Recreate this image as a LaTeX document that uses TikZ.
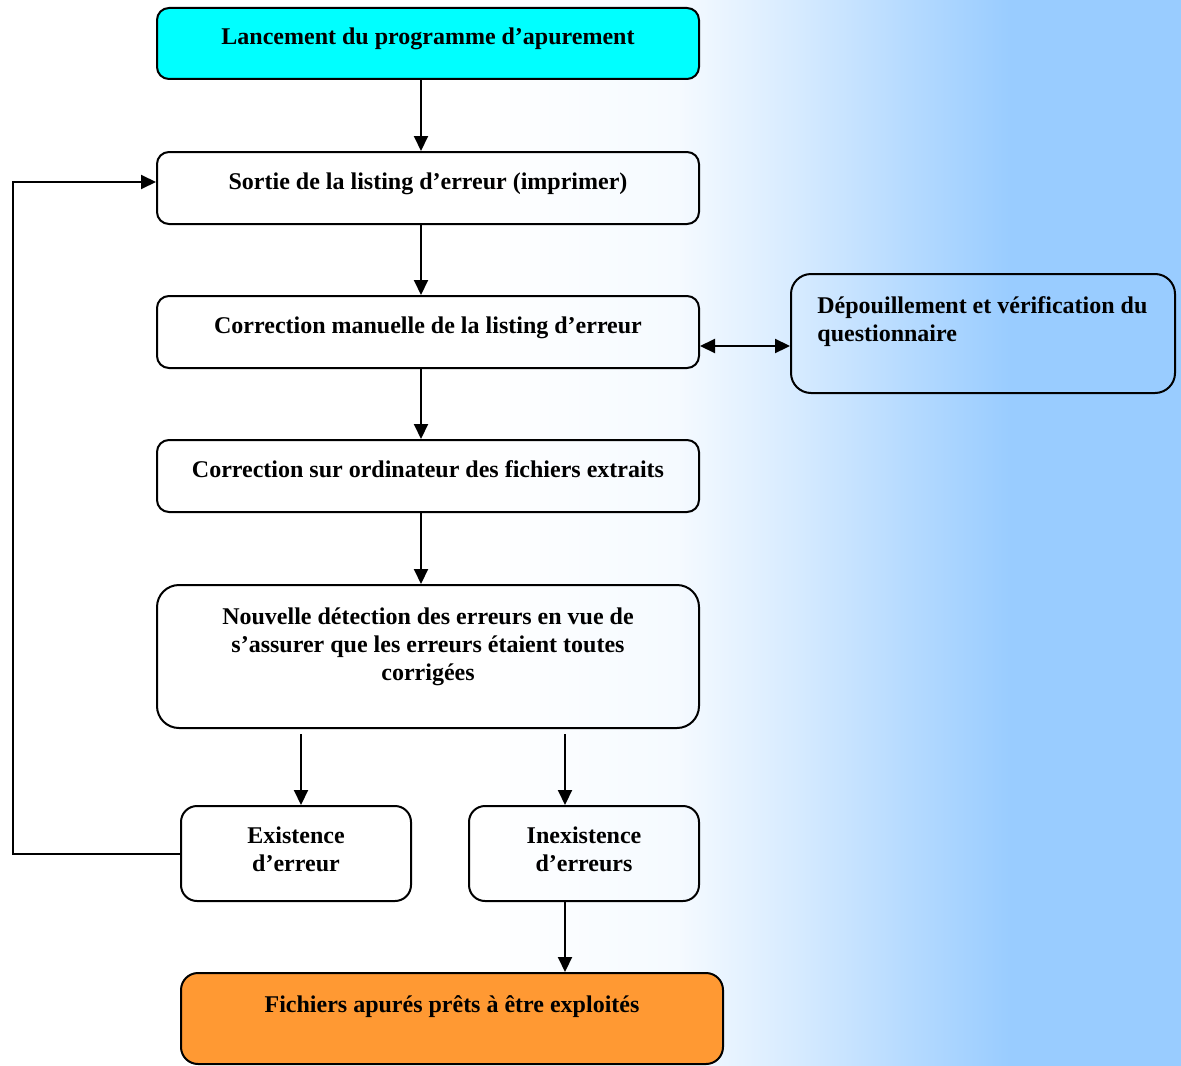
\documentclass[tikz,border=0pt]{standalone}
\usepackage{fontspec}
\setmainfont{Liberation Serif}
\usetikzlibrary{arrows.meta}
\definecolor{bgblue}{HTML}{99CCFF}
\definecolor{boxcyan}{HTML}{00FFFF}
\definecolor{boxorange}{HTML}{FF9933}
\tikzset{
  box/.style={draw=black, line width=1pt, inner sep=0pt},
  txt/.style={font=\fontsize{12}{14}\selectfont\bfseries, inner sep=0pt, align=center},
  arr/.style={line width=1pt, -{Triangle[length=7.5pt,width=7pt]}},
  darr/.style={line width=1.1pt, {Triangle[length=7.5pt,width=7pt]}-{Triangle[length=7.5pt,width=7pt]}},
  fb/.style={line width=1pt, -{Triangle[length=7.5pt,width=7pt]}}
}
\begin{document}
\begin{tikzpicture}[x=0.5pt, y=-0.5pt]
\useasboundingbox (0,0) rectangle (1181,1065);
% background
\fill[white] (-5,-5) rectangle (481,1075);
\shade[left color=white, right color=bgblue!10!white] (480,-5) rectangle (681,1075);
\shade[left color=bgblue!10!white, right color=bgblue!41!white] (680,-5) rectangle (801,1075);
\shade[left color=bgblue!41!white, right color=bgblue!70!white] (800,-5) rectangle (901,1075);
\shade[left color=bgblue!70!white, right color=bgblue] (900,-5) rectangle (1011,1075);
\fill[bgblue] (1010,-5) rectangle (1190,1075);

% boxes
\node[box, fill=boxcyan, minimum width=271pt, minimum height=35.5pt, rounded corners=6pt] (b1) at (428,43.5) {};
\node[box, minimum width=271pt, minimum height=36pt, rounded corners=6pt] (b2) at (428,188) {};
\node[box, minimum width=271pt, minimum height=36pt, rounded corners=6pt] (b3) at (428,332) {};
\node[box, minimum width=271pt, minimum height=36pt, rounded corners=6pt] (b4) at (428,476) {};
\node[box, minimum width=271pt, minimum height=71.5pt, rounded corners=11pt] (b5) at (428,656.5) {};
\node[box, minimum width=115pt, minimum height=47.5pt, rounded corners=8pt] (b6) at (296,853.5) {};
\node[box, minimum width=115pt, minimum height=47.5pt, rounded corners=8pt] (b7) at (584,853.5) {};
\node[box, fill=boxorange, minimum width=271pt, minimum height=45.5pt, rounded corners=8.5pt] (b8) at (452,1018.5) {};
\node[box, minimum width=192pt, minimum height=59.5pt, rounded corners=10pt] (b9) at (983,333.5) {};

% texts (anchor base = baseline of the last line)
\node[txt, anchor=base] (t1) at (428,45) {Lancement du programme d’apurement};
\node[txt, anchor=base] (t2) at (428,189) {Sortie de la listing d’erreur (imprimer)};
\node[txt, anchor=base] (t3) at (428,333) {Correction manuelle de la listing d’erreur};
\node[txt, anchor=base] (t4) at (428,477) {Correction sur ordinateur des fichiers extraits};
\node[txt, anchor=base] (t5) at (428,680) {Nouvelle détection des erreurs en vue de\\s’assurer que les erreurs étaient toutes\\corrigées};
\node[txt, anchor=base] (t6) at (296,871) {Existence\\d’erreur};
\node[txt, anchor=base] (t7) at (584,871) {Inexistence\\d’erreurs};
\node[txt, anchor=base] (t8) at (452,1012) {Fichiers apurés prêts à être exploités};
\node[txt, anchor=base west, align=left] (t9) at (817,341) {Dépouillement et vérification du\\questionnaire};

% connectors
\draw[arr] ([xshift=-3.5pt]b1.south) -- ([xshift=-3.5pt]b2.north);
\draw[arr] ([xshift=-3.5pt]b2.south) -- ([xshift=-3.5pt]b3.north);
\draw[arr] ([xshift=-3.5pt]b3.south) -- ([xshift=-3.5pt]b4.north);
\draw[arr] ([xshift=-3.5pt]b4.south) -- ([xshift=-3.5pt]b5.north);
\draw[arr] (b5.south -| 301,0) ++(0,5) -- (b6.north -| 301,0);
\draw[arr] (b5.south -| 565,0) ++(0,5) -- (b7.north -| 565,0);
\draw[arr] (b7.south -| 565,0) -- (b8.north -| 565,0);
\draw[fb] (b6.west) -- (13,853.5) -- (13,182) -- (b2.west |- 0,182);
\draw[darr] (b3.east |- 0,346) -- (b9.west |- 0,346);
\end{tikzpicture}
\end{document}
